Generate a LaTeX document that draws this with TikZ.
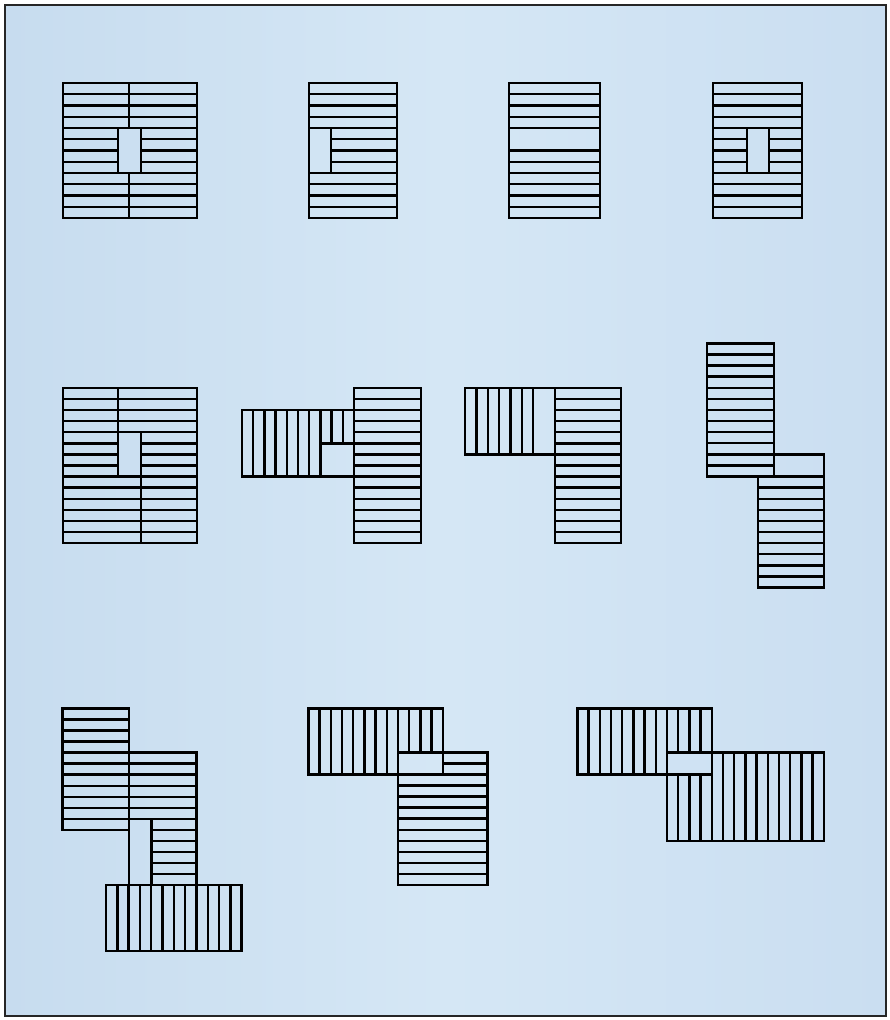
\documentclass[tikz,border=0pt]{standalone}
\definecolor{bgA}{HTML}{C7DCEF}
\definecolor{bgB}{HTML}{D5E7F5}
\definecolor{bgC}{HTML}{CADEF1}
\begin{document}
\begin{tikzpicture}[x=1pt,y=-1pt,
  plan/.style={line width=2.4pt, line cap=rect, line join=miter, draw=black}]
\useasboundingbox (0,0) rectangle (890,1020);
\fill[white] (0,0) rectangle (890,1020);
\shade[left color=bgA, right color=bgB] (5,5) rectangle (445,1016);
\shade[left color=bgB, right color=bgC] (445,5) rectangle (886,1016);
\draw[line width=2.2pt, draw=black!85] (5,5) rectangle (886,1016);

\begin{scope}[plan]
% ---------- Figure 1 ----------
\draw (63,83) rectangle (197,218);
\foreach \i in {1,2,3,4,8,9,10,11} \draw (63,83+\i*11.25) -- (197,83+\i*11.25);
\foreach \i in {5,6,7} {\draw (63,83+\i*11.25) -- (118,83+\i*11.25); \draw (141,83+\i*11.25) -- (197,83+\i*11.25);}
\draw (129,83) -- (129,128); \draw (129,173) -- (129,218);
\draw (118,128) -- (118,173); \draw (141,128) -- (141,173);

% ---------- Figure 2 ----------
\draw (309,83) rectangle (397,218);
\foreach \i in {1,2,3,4,8,9,10,11} \draw (309,83+\i*11.25) -- (397,83+\i*11.25);
\foreach \i in {5,6,7} \draw (331,83+\i*11.25) -- (397,83+\i*11.25);
\draw (331,128) -- (331,173);

% ---------- Figure 3 ----------
\draw (509,83) rectangle (600,218);
\foreach \i in {1,2,3,4,6,7,8,9,10,11} \draw (509,83+\i*11.25) -- (600,83+\i*11.25);

% ---------- Figure 4 ----------
\draw (713,83) rectangle (802,218);
\foreach \i in {1,2,3,4,8,9,10,11} \draw (713,83+\i*11.25) -- (802,83+\i*11.25);
\foreach \i in {5,6,7} {\draw (713,83+\i*11.25) -- (747,83+\i*11.25); \draw (769,83+\i*11.25) -- (802,83+\i*11.25);}
\draw (747,128) -- (747,173); \draw (769,128) -- (769,173);

% ---------- Figure 5 ----------
\draw (63,388) rectangle (197,543);
\foreach \i in {1,2,3,4,8,9,10,11,12,13} \draw (63,388+\i*11.07) -- (197,388+\i*11.07);
\foreach \i in {5,6,7} {\draw (63,388+\i*11.07) -- (118,388+\i*11.07); \draw (141,388+\i*11.07) -- (197,388+\i*11.07);}
\draw (118,388) -- (118,388+8*11.07);
\draw (141,388+4*11.07) -- (141,543);

% ---------- Figure 6 ----------
\draw (354,388) rectangle (421,543);
\foreach \i in {1,...,13} \draw (354,388+\i*11.07) -- (421,388+\i*11.07);
\draw (242,388+2*11.07) rectangle (354,388+8*11.07);
\foreach \k in {1,...,7} \draw (242+\k*11.2,388+2*11.07) -- (242+\k*11.2,388+8*11.07);
\foreach \k in {8,9} \draw (242+\k*11.2,388+2*11.07) -- (242+\k*11.2,388+5*11.07);
\draw (242+7*11.2,388+5*11.07) -- (354,388+5*11.07);

% ---------- Figure 7 ----------
\draw (555,388) rectangle (621,543);
\foreach \i in {1,...,13} \draw (555,388+\i*11.07) -- (621,388+\i*11.07);
\draw (465,388) rectangle (555,388+6*11.07);
\foreach \k in {1,...,6} \draw (465+\k*11.35,388) -- (465+\k*11.35,388+6*11.07);

% ---------- Figure 8 ----------
\draw (707,343.3) rectangle (774,343.3+12*11.1);
\foreach \i in {1,...,11} \draw (707,343.3+\i*11.1) -- (774,343.3+\i*11.1);
\draw (774,343.3+10*11.1) -- (824,343.3+10*11.1) -- (824,343.3+22*11.1) -- (758,343.3+22*11.1) -- (758,343.3+12*11.1);
\foreach \i in {12,...,21} \draw (758,343.3+\i*11.1) -- (824,343.3+\i*11.1);

% ---------- Figure 9 ----------
\draw (62.3,708.3) rectangle (129,708.3+11*11.06);
\foreach \i in {1,2,3} \draw (62.3,708.3+\i*11.06) -- (129,708.3+\i*11.06);
\foreach \i in {4,...,10} \draw (62.3,708.3+\i*11.06) -- (196.6,708.3+\i*11.06);
\foreach \i in {11,...,15} \draw (151.6,708.3+\i*11.06) -- (196.6,708.3+\i*11.06);
\draw (129,708.3+11*11.06) -- (129,708.3+16*11.06);
\draw (151.6,708.3+10*11.06) -- (151.6,708.3+16*11.06);
\draw (196.6,708.3+4*11.06) -- (196.6,708.3+16*11.06);
\draw (106,708.3+16*11.06) rectangle (241.6,951);
\foreach \k in {1,...,11} \draw (106+\k*11.3,708.3+16*11.06) -- (106+\k*11.3,951);

% ---------- Figure 10 ----------
\draw (308.3,708.3) rectangle (442.7,752.3+2*11.06);
\foreach \k in {1,...,7} \draw (308.3+\k*11.2,708.3) -- (308.3+\k*11.2,752.3+2*11.06);
\foreach \k in {9,10,11} \draw (308.3+\k*11.2,708.3) -- (308.3+\k*11.2,752.3);
\draw (308.3+8*11.2,708.3) -- (308.3+8*11.2,752.3+12*11.06);
\draw (308.3+8*11.2,752.3) -- (487.3,752.3) -- (487.3,752.3+12*11.06) -- (308.3+8*11.2,752.3+12*11.06);
\foreach \j in {1,2} \draw (442.7,752.3+\j*11.06) -- (487.3,752.3+\j*11.06);
\foreach \j in {3,...,11} \draw (308.3+8*11.2,752.3+\j*11.06) -- (487.3,752.3+\j*11.06);

% ---------- Figure 11 ----------
\draw (577.3,708.3) rectangle (577.3+12*11.2,752.3+2*11.06);
\draw (577.3+8*11.2,752.3) rectangle (577.3+22*11.2,752.3+8*11.06);
\foreach \k in {1,...,7} \draw (577.3+\k*11.2,708.3) -- (577.3+\k*11.2,752.3+2*11.06);
\foreach \k in {9,10,11} {\draw (577.3+\k*11.2,708.3) -- (577.3+\k*11.2,752.3); \draw (577.3+\k*11.2,752.3+2*11.06) -- (577.3+\k*11.2,752.3+8*11.06);}
\draw (577.3+8*11.2,708.3) -- (577.3+8*11.2,752.3);
\draw (577.3+12*11.2,752.3+2*11.06) -- (577.3+12*11.2,752.3+8*11.06);
\foreach \k in {13,...,21} \draw (577.3+\k*11.2,752.3) -- (577.3+\k*11.2,752.3+8*11.06);
\end{scope}
\end{tikzpicture}
\end{document}
